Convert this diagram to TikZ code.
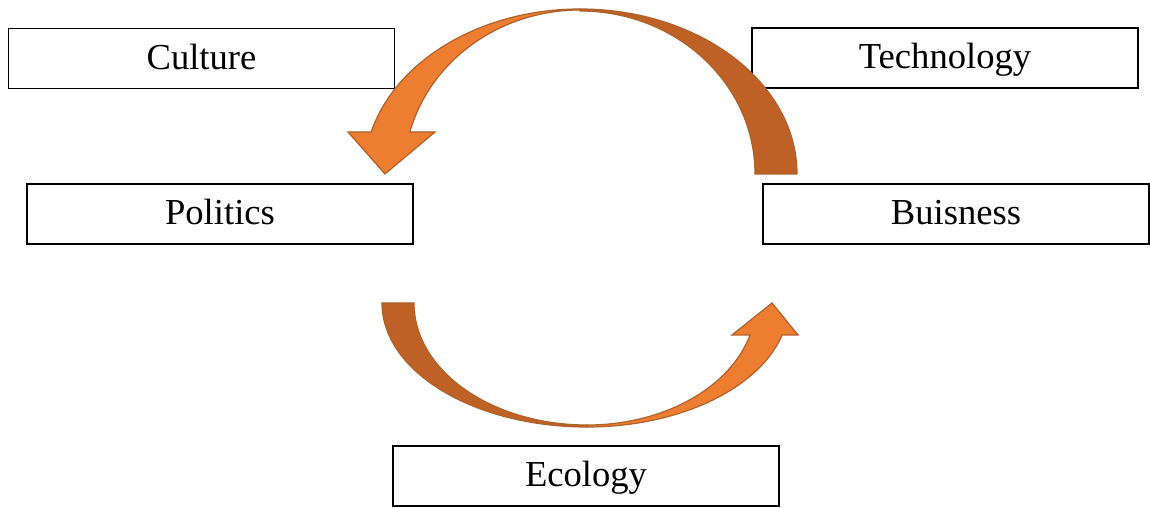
\documentclass[tikz,border=0pt]{standalone}
\usepackage{fontspec}
\setmainfont{Liberation Serif}
\definecolor{arrowlight}{HTML}{ED7D31}
\definecolor{arrowdark}{HTML}{BE6127}
\definecolor{arrowline}{HTML}{B0612A}
\begin{document}
\begin{tikzpicture}[x=1pt,y=1pt,
  label box/.style={draw=black, line width=1.6pt, fill=white, minimum width=386pt, minimum height=60pt, inner sep=0pt, text height=26pt, text depth=4pt, font=\fontsize{36.6}{40}\selectfont},
  front arrow/.style={fill=arrowlight, draw=arrowline, line width=1.2pt, line join=miter},
  back arrow/.style={fill=arrowdark, draw=arrowline, line width=1.2pt, line join=miter}]
\useasboundingbox (0,0) rectangle (1150,508);
% boxes
\node[label box] (culture) at (201.5,449.5) {Culture};
\node[label box] (tech) at (945,450) {Technology};
\node[label box] (politics) at (220,294) {Politics};
\node[label box] (business) at (956,294) {Buisness};
\node[label box] (ecology) at (586,32) {Ecology};
% top curved arrow (Technology/Business -> Politics)
\draw[back arrow] (797,334) arc[start angle=0, end angle=90, x radius=217, y radius=165]
  -- (580,497) arc[start angle=90, end angle=0, x radius=175, y radius=163] -- cycle;
\draw[front arrow] (580,499) arc[start angle=90, end angle=165.25, x radius=216, y radius=165]
  -- (348,376) -- (385,334) -- (435,376) -- (409.9,376)
  arc[start angle=165.16, end angle=90, x radius=176, y radius=164] -- cycle;
% bottom curved arrow (Politics -> Business)
\draw[back arrow] (382,205) arc[start angle=180, end angle=270, x radius=205, y radius=124]
  -- (587,83) arc[start angle=270, end angle=180, x radius=173, y radius=122] -- cycle;
\draw[front arrow] (587,81) arc[start angle=270, end angle=345.05, x radius=202, y radius=124]
  -- (798,173) -- (772,205) -- (732,173) -- (750,173)
  arc[start angle=344.8, end angle=270, x radius=169, y radius=122] -- cycle;
\end{tikzpicture}
\end{document}
